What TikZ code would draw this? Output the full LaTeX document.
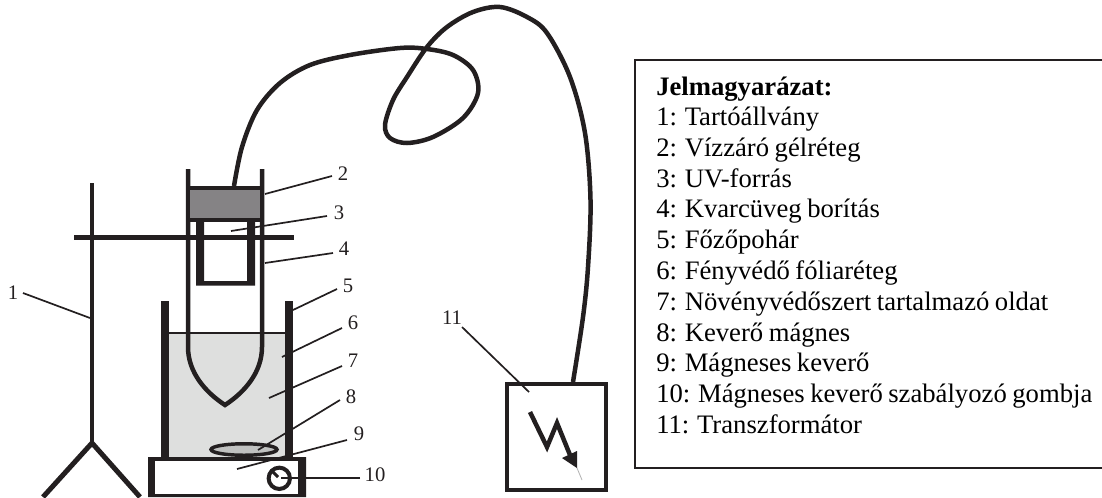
\documentclass[tikz,border=0pt]{standalone}
\usepackage{fontspec}
\usetikzlibrary{shapes.geometric}
\setmainfont[WordSpace=0.83]{Liberation Serif}
\definecolor{ink}{HTML}{231F20}
\definecolor{gel}{HTML}{858385}
\definecolor{liquid}{HTML}{DEDFDE}
\definecolor{magnet}{HTML}{C0C1C0}
\begin{document}
\begin{tikzpicture}[x=0.75pt,y=-0.75pt,line join=miter,
  ink line/.style={draw=ink,line width=#1*0.75pt},
  leader/.style={draw=ink,line width=1.7pt*0.75},
  num/.style={font=\fontsize{15.5pt}{18pt}\selectfont,text=ink,inner sep=0pt,anchor=center},
  legend/.style={font=\fontsize{20pt}{23pt}\selectfont,text=black,inner sep=0pt,anchor=base west}]
\useasboundingbox (0,0) rectangle (1102,497);
% liquid
\fill[liquid] (169,333) rectangle (285,457);
\draw[ink line=1.5] (169,333) -- (285,333);
% stand
\coordinate (standTop) at (92,183);
\coordinate (standFoot) at (92,443);
\coordinate (legL) at (43,497);
\coordinate (legR) at (140,497);
\draw[ink line=4.5] (standTop) -- (standFoot);
\draw[ink line=5] (legL) -- (standFoot) -- (legR);
% quartz tube
\draw[ink line=4.5] (188,169) -- (188,347) .. controls (188,372) and (205,392) .. (225,405) .. controls (245,392) and (262,372) .. (262,347) -- (262,169);
% gel
\draw[ink line=4,fill=gel] (188,188) rectangle (262,220);
% UV lamp
\fill[ink,even odd rule] (196,220) -- (255,220) -- (255,285.5) -- (196,285.5) -- cycle (204,220) -- (247,220) -- (247,281) -- (204,281) -- cycle;
% bar
\draw[ink line=5] (74,237.5) -- (294,237.5);
% beaker
\fill[ink] (161,301) rectangle (169,458);
\fill[ink] (285,301) rectangle (293,458);
% hot plate
\fill[ink,even odd rule] (148,457) rectangle (306,497) (155,461) rectangle (298,494);
\fill[white] (155,461) rectangle (298,494);
% knob
\node[circle,draw=ink,line width=3pt,fill=white,minimum size=16pt,inner sep=0pt] (knob) at (279.3,478.3) {};
\draw[ink line=3] (272,471) -- (278,477);
% magnet
\node[ellipse,draw=ink,line width=2.6pt,fill=magnet,minimum width=49.5pt,minimum height=8.6pt,inner sep=0pt] (mag) at (244,449.5) {};
% transformer
\node[draw=ink,line width=2.8pt,minimum width=74.5pt,minimum height=79.5pt,inner sep=0pt,fill=white] (trafo) at (556.5,437) {};
\draw[ink line=4.5] (530,412) -- (547,447) -- (557,423) -- (570,455);
\fill[ink] (577,468) -- (562,458) -- (577,451) -- cycle;
\draw[gray!60,line width=0.6pt] (577,468) -- (582,480);
% cable
\coordinate (cableA) at (234,186);
\coordinate (cableB) at (573,382);
\draw[ink line=4.5,line cap=butt] plot[smooth,tension=0.55] coordinates {(cableA) (242,147) (257,110) (280,83) (310,65) (350,55) (400,48) (427,49) (453,55) (473,70) (478,93) (463,118) (433,137) (407,143) (390,138) (385,125) (393,100) (407,77) (427,47) (447,27) (473,12) (500,7) (527,17) (547,33) (570,77) (585,133) (590.5,200) (588,267) (583,317) (cableB)};
% labels and leaders
\node[num] (n1) at (13,293) {1};
\node[num] (n2) at (343,174) {2};
\node[num] (n3) at (339,213) {3};
\node[num] (n4) at (344,249) {4};
\node[num] (n5) at (348,286) {5};
\node[num] (n6) at (353,323) {6};
\node[num] (n7) at (353,361) {7};
\node[num] (n8) at (351,397) {8};
\node[num] (n9) at (359,434) {9};
\node[num] (n10) at (375,475) {10};
\node[num] (n11) at (452,318) {11};
\coordinate (e1) at (90,318); \coordinate (s1) at (23,293);
\coordinate (e2) at (265,194); \coordinate (s2) at (332,176);
\coordinate (e3) at (231,231); \coordinate (s3) at (327,216);
\coordinate (e4) at (265,263); \coordinate (s4) at (333,253);
\coordinate (e5) at (293,310); \coordinate (s5) at (337,289);
\coordinate (e6) at (282,357); \coordinate (s6) at (342,328);
\coordinate (e7) at (269,398); \coordinate (s7) at (342,366);
\coordinate (e8) at (258,450); \coordinate (s8) at (340,400);
\coordinate (e9) at (237,469); \coordinate (s9) at (347,440);
\coordinate (e10) at (281,478); \coordinate (s10) at (360,478);
\coordinate (e11) at (529,392); \coordinate (s11) at (462,327);
\foreach \i in {1,...,11} \draw[leader] (s\i) -- (e\i);
% legend
\draw[draw=ink,line width=1.5pt] (1104,60) -- (635,60) -- (635,468) -- (1104,468);
\node[legend,font=\fontsize{20pt}{23pt}\selectfont\bfseries] (L0) at (656,95) {Jelmagyarázat:};
\node[legend] (L1) at (656,125) {1: Tartóállvány};
\node[legend] (L2) at (656,156) {2: Vízzáró gélréteg};
\node[legend] (L3) at (656,187) {3: UV-forrás};
\node[legend] (L4) at (656,217.5) {4: Kvarcüveg borítás};
\node[legend] (L5) at (656,248) {5: Főzőpohár};
\node[legend] (L6) at (656,279) {6: Fényvédő fóliaréteg};
\node[legend] (L7) at (656,310) {7: Növényvédőszert tartalmazó oldat};
\node[legend] (L8) at (656,341) {8: Keverő mágnes};
\node[legend] (L9) at (656,371.5) {9: Mágneses keverő};
\node[legend] (L10) at (656,402.5) {10: Mágneses keverő szabályozó gombja};
\node[legend] (L11) at (656,433) {11: Transzformátor};
\end{tikzpicture}
\end{document}
